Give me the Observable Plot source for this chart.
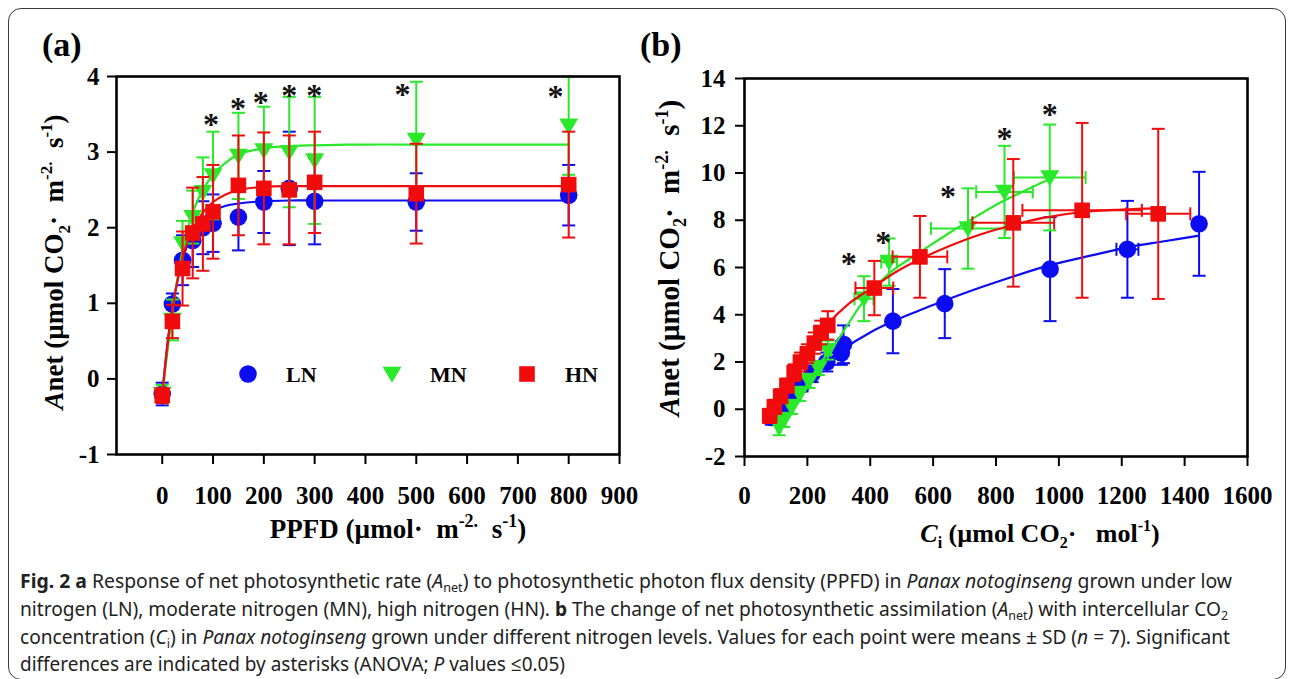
<!DOCTYPE html>
<html><head><meta charset="utf-8">
<script src="https://cdn.jsdelivr.net/npm/d3@7"></script>
<script src="https://cdn.jsdelivr.net/npm/@observablehq/plot@0.6"></script>
<style>
html,body{margin:0;padding:0;background:#fff;}
body{width:1292px;height:679px;overflow:hidden;position:relative;}
#border{position:absolute;left:8px;top:8px;width:1278px;height:672px;border:1.6px solid #3a3a3a;border-radius:13px;box-sizing:border-box;}
#pa{position:absolute;left:0;top:0;}
#pb{position:absolute;left:630px;top:0;}
.cl{position:absolute;left:20px;white-space:nowrap;font-family:"Noto Sans","Open Sans",sans-serif;font-size:20px;line-height:28px;color:#222;transform-origin:0 50%;}
.cl b{font-weight:bold;}
.cl sub{font-size:13px;vertical-align:-4px;line-height:0;}
</style></head><body>
<div id="border"></div>
<div id="pa"></div><div id="pb"></div>
<div id="cap"></div>
<script>
// ---------- Panel (a): light response ----------
const ppfd   = [0, 20, 40, 60, 80, 100, 150, 200, 250, 300, 500, 800];
const lnA    = [-0.20, 0.99, 1.57, 1.83, 2.00, 2.06, 2.14, 2.34, 2.52, 2.35, 2.34, 2.43];
const lnSdA  = [0.15, 0.14, 0.33, 0.35, 0.35, 0.38, 0.44, 0.41, 0.75, 0.57, 0.38, 0.40];
const mnA    = [-0.20, 0.78, 1.79, 2.14, 2.47, 2.69, 2.95, 3.02, 3.00, 2.89, 3.16, 3.35];
const mnSdA  = [0.12, 0.27, 0.30, 0.35, 0.46, 0.58, 0.57, 0.58, 0.73, 0.84, 0.77, 0.65];
const hnA    = [-0.22, 0.76, 1.46, 1.93, 2.05, 2.21, 2.56, 2.52, 2.50, 2.60, 2.45, 2.57];
const hnSdA  = [0.10, 0.22, 0.49, 0.60, 0.62, 0.62, 0.66, 0.74, 0.72, 0.67, 0.66, 0.70];
// fitted curves
const fitXA  = [0, 10, 20, 30, 40, 50, 60, 80, 100, 125, 150, 200, 250, 300, 400, 500, 800];
const lnFitA = [-0.22, 0.45, 0.95, 1.30, 1.58, 1.78, 1.93, 2.12, 2.22, 2.29, 2.32, 2.35, 2.36, 2.36, 2.36, 2.36, 2.36];
const mnFitA = [-0.22, 0.35, 0.88, 1.33, 1.70, 1.98, 2.20, 2.50, 2.70, 2.86, 2.97, 3.05, 3.08, 3.09, 3.10, 3.10, 3.10];
const hnFitA = [-0.22, 0.42, 0.92, 1.30, 1.60, 1.82, 1.98, 2.20, 2.34, 2.44, 2.50, 2.54, 2.55, 2.55, 2.55, 2.55, 2.55];
const sigXA  = [96, 149, 194, 250, 299, 473, 774];
const sigYA  = [3.46, 3.66, 3.75, 3.84, 3.84, 3.85, 3.83];
const xTicksA = [0, 100, 200, 300, 400, 500, 600, 700, 800, 900];
const yTicksA = [-1, 0, 1, 2, 3, 4];

// ---------- Panel (b): CO2 response ----------
const ciLN   = [85, 118, 132, 155, 183, 215, 262, 308, 315, 472, 637, 972, 1218, 1446];
const aLN    = [-0.35, -0.05, 0.25, 0.65, 1.05, 1.50, 2.00, 2.38, 2.75, 3.73, 4.47, 5.93, 6.77, 7.85];
const sdLN   = [0.30, 0.30, 0.30, 0.30, 0.30, 0.35, 0.40, 0.50, 0.80, 1.36, 1.46, 2.20, 2.05, 2.20];
const ciSdLN = [5, 5, 5, 5, 5, 8, 10, 10, 10, 10, 10, 12, 35, 10];
const ciMN   = [110, 125, 150, 175, 205, 235, 265, 380, 460, 711, 827, 971];
const aMN    = [-0.75, -0.45, 0.10, 0.65, 1.20, 1.75, 2.50, 4.68, 6.23, 7.65, 9.20, 9.81];
const sdMN   = [0.35, 0.30, 0.30, 0.30, 0.30, 0.30, 0.40, 0.95, 1.00, 1.70, 1.95, 2.24];
const ciSdMN = [5, 5, 5, 5, 5, 8, 10, 30, 25, 118, 90, 114];
const ciHN   = [80, 95, 115, 135, 158, 178, 200, 222, 243, 265, 413, 558, 855, 1074, 1316];
const aHN    = [-0.28, 0.10, 0.55, 1.00, 1.55, 2.00, 2.35, 2.80, 3.25, 3.55, 5.13, 6.45, 7.89, 8.42, 8.27];
const sdHN   = [0.30, 0.30, 0.30, 0.30, 0.35, 0.40, 0.40, 0.45, 0.50, 0.60, 1.15, 1.73, 2.70, 3.70, 3.60];
const ciSdHN = [5, 5, 5, 5, 5, 5, 8, 8, 10, 12, 60, 87, 130, 190, 102];
const fitXLN = [90, 120, 150, 200, 250, 314, 400, 472, 550, 637, 750, 850, 972, 1100, 1218, 1330, 1446];
const fitYLN = [-0.45, 0.10, 0.60, 1.30, 1.90, 2.55, 3.25, 3.72, 4.15, 4.60, 5.15, 5.60, 6.10, 6.50, 6.85, 7.10, 7.35];
const fitXMN = [110, 150, 200, 250, 300, 380, 460, 558, 650, 711, 814, 900, 971];
const fitYMN = [-0.80, 0.00, 1.10, 2.10, 3.00, 4.60, 5.75, 6.65, 7.45, 7.95, 8.75, 9.30, 9.75];
const fitXHN = [80, 120, 160, 200, 265, 330, 413, 480, 558, 650, 750, 855, 950, 1074, 1200, 1316];
const fitYHN = [-0.30, 0.55, 1.50, 2.40, 3.60, 4.45, 5.20, 5.80, 6.35, 6.90, 7.40, 7.80, 8.10, 8.35, 8.45, 8.50];
const sigXB  = [332, 441, 647, 827, 971];
const sigYB  = [6.45, 7.36, 9.27, 11.74, 12.76];
const xTicksB = [0, 200, 400, 600, 800, 1000, 1200, 1400, 1600];
const yTicksB = [-2, 0, 2, 4, 6, 8, 10, 12, 14];

const series = ["LN", "MN", "HN"];
const colors = {LN: "#0c0cf0", MN: "#2ae82a", HN: "#f00c0c"};

// ---------- symbols ----------
const capH = {draw(ctx, size) { const r = Math.sqrt(size / Math.PI); ctx.moveTo(-r, 0); ctx.lineTo(r, 0); }};
const capV = {draw(ctx, size) { const r = Math.sqrt(size / Math.PI); ctx.moveTo(0, -r); ctx.lineTo(0, r); }};
const triDown = {draw(ctx, size) { const r = Math.sqrt(size / Math.PI);
  ctx.moveTo(-r * 1.25, -r * 0.95); ctx.lineTo(r * 1.25, -r * 0.95); ctx.lineTo(0, r * 1.15); ctx.closePath(); }};
const shape = {LN: "circle", MN: triDown, HN: "square"};
const rad = {LN: 8.8, MN: 7.6, HN: 8.8};

const zip = (xs, ys, sds, xsd) => xs.map((x, i) => ({x, y: ys[i], sd: sds ? sds[i] : 0, xsd: xsd ? xsd[i] : 0}));
const FONT = "'Liberation Serif','Times New Roman',serif";

function seriesMarks(key, pts, fit, withX) {
  const c = colors[key];
  const m = [];
  m.push(Plot.ruleX(pts, {x: "x", y1: d => d.y - d.sd, y2: d => d.y + d.sd, stroke: c, strokeWidth: 2}));
  m.push(Plot.dot(pts, {x: "x", y: d => d.y + d.sd, symbol: capH, r: 6.5, stroke: c, strokeWidth: 2, fill: "none"}));
  m.push(Plot.dot(pts, {x: "x", y: d => d.y - d.sd, symbol: capH, r: 6.5, stroke: c, strokeWidth: 2, fill: "none"}));
  if (withX) {
    m.push(Plot.ruleY(pts, {y: "y", x1: d => d.x - d.xsd, x2: d => d.x + d.xsd, stroke: c, strokeWidth: 2}));
    m.push(Plot.dot(pts, {x: d => d.x - d.xsd, y: "y", symbol: capV, r: 6.5, stroke: c, strokeWidth: 2, fill: "none"}));
    m.push(Plot.dot(pts, {x: d => d.x + d.xsd, y: "y", symbol: capV, r: 6.5, stroke: c, strokeWidth: 2, fill: "none"}));
  }
  m.push(Plot.line(fit, {x: "x", y: "y", stroke: c, strokeWidth: 2.2, curve: "catmull-rom"}));
  m.push(Plot.dot(pts, {x: "x", y: "y", symbol: shape[key], r: rad[key], fill: c, stroke: "none"}));
  return m;
}

function addYLabel(svg, x, y, size) {
  const t = d3.select(svg).append("text")
    .attr("transform", `translate(${x},${y}) rotate(-90)`)
    .attr("text-anchor", "middle").attr("font-family", FONT).attr("font-weight", "bold")
    .attr("font-size", size).attr("fill", "#000");
  const s = Math.round(size * 0.62);
  t.append("tspan").attr("font-style", "italic").text("A");
  t.append("tspan").text("net (\u00b5mol CO");
  t.append("tspan").attr("font-size", s).attr("dy", 7).text("2");
  t.append("tspan").attr("dy", -7).text("\u00b7  m");
  t.append("tspan").attr("font-size", s).attr("dy", -11).text("-2.");
  t.append("tspan").attr("dy", 11).text("  s");
  t.append("tspan").attr("font-size", s).attr("dy", -11).text("-1");
  t.append("tspan").attr("dy", 11).text(")");
}

function addTitle(svg, x, y, txt) {
  d3.select(svg).append("text").attr("x", x).attr("y", y).attr("text-anchor", "start").attr("font-family", FONT)
    .attr("font-weight", "bold").attr("font-size", 34).attr("fill", "#000").text(txt);
}

// ---------- Panel (a) ----------
const ptsA = {LN: zip(ppfd, lnA, lnSdA), MN: zip(ppfd, mnA, mnSdA), HN: zip(ppfd, hnA, hnSdA)};
const fitA = {LN: zip(fitXA, lnFitA), MN: zip(fitXA, mnFitA), HN: zip(fitXA, hnFitA)};
const sigA = sigXA.map((x, i) => ({x, y: sigYA[i]}));

const plotA = Plot.plot({
  width: 640, height: 560,
  marginLeft: 116, marginRight: 21, marginTop: 76, marginBottom: 106,
  x: {domain: [-90, 900], label: null},
  y: {domain: [-1, 4], label: null},
  style: {fontFamily: FONT, fontWeight: "bold", color: "#000", background: "transparent", overflow: "visible"},
  marks: [
    Plot.axisX({ticks: xTicksA, tickSize: 10, tickPadding: 22, strokeWidth: 2, fontSize: 25, tickFormat: d => String(d), label: null}),
    Plot.axisY({ticks: yTicksA, tickSize: 9, tickPadding: 8, strokeWidth: 2, fontSize: 25, tickFormat: d => String(d), label: null}),
    ...series.flatMap(k => seriesMarks(k, ptsA[k], fitA[k], false)),
    Plot.text(sigA, {x: "x", y: "y", text: () => "*", fontSize: 32, fontWeight: "bold", lineAnchor: "middle", dy: 7, fill: "#111"}),
    Plot.frame({stroke: "#000", strokeWidth: 2.6})
  ]
});
document.getElementById("pa").appendChild(plotA);
addYLabel(plotA, 63, 262, 27);
addTitle(plotA, 42, 56, "(a)");
{
  const g = d3.select(plotA);
  const t = g.append("text").attr("x", 398).attr("y", 538).attr("text-anchor", "middle")
    .attr("font-family", FONT).attr("font-weight", "bold").attr("font-size", 27).attr("fill", "#000");
  t.append("tspan").text("PPFD (\u00b5mol\u00b7  m");
  t.append("tspan").attr("font-size", 18).attr("dy", -11).text("-2.");
  t.append("tspan").attr("dy", 11).text("  s");
  t.append("tspan").attr("font-size", 18).attr("dy", -11).text("-1");
  t.append("tspan").attr("dy", 11).text(")");
  // legend
  const leg = [{k: "LN", x: 248}, {k: "MN", x: 392}, {k: "HN", x: 527}];
  const ly = 374;
  for (const l of leg) {
    const sym = l.k === "MN" ? triDown : (l.k === "LN" ? d3.symbolCircle : d3.symbolSquare);
    g.append("path").attr("transform", `translate(${l.x},${ly})`)
      .attr("d", d3.symbol(sym, Math.PI * rad[l.k] * rad[l.k])()).attr("fill", colors[l.k]);
    g.append("text").attr("x", l.x + 38).attr("y", ly + 8).attr("text-anchor", "start").attr("font-family", FONT)
      .attr("font-weight", "bold").attr("font-size", 22).attr("fill", "#000").text(l.k);
  }
}

// ---------- Panel (b) ----------
const ptsB = {LN: zip(ciLN, aLN, sdLN, ciSdLN), MN: zip(ciMN, aMN, sdMN, ciSdMN), HN: zip(ciHN, aHN, sdHN, ciSdHN)};
const fitB = {LN: zip(fitXLN, fitYLN), MN: zip(fitXMN, fitYMN), HN: zip(fitXHN, fitYHN)};
const sigB = sigXB.map((x, i) => ({x, y: sigYB[i]}));

const plotB = Plot.plot({
  width: 662, height: 560,
  marginLeft: 114, marginRight: 45, marginTop: 78, marginBottom: 104,
  x: {domain: [0, 1600], label: null},
  y: {domain: [-2, 14], label: null},
  style: {fontFamily: FONT, fontWeight: "bold", color: "#000", background: "transparent", overflow: "visible"},
  marks: [
    Plot.axisX({ticks: xTicksB, tickSize: 10, tickPadding: 20, strokeWidth: 2, fontSize: 25, tickFormat: d => String(d), label: null}),
    Plot.axisY({ticks: yTicksB, tickSize: 9, tickPadding: 10, strokeWidth: 2, fontSize: 25, tickFormat: d => String(d), label: null}),
    ...series.flatMap(k => seriesMarks(k, ptsB[k], fitB[k], true)),
    Plot.text(sigB, {x: "x", y: "y", text: () => "*", fontSize: 32, fontWeight: "bold", lineAnchor: "middle", dy: 7, fill: "#111"}),
    Plot.frame({stroke: "#000", strokeWidth: 2.6})
  ]
});
document.getElementById("pb").appendChild(plotB);
addYLabel(plotB, 49, 258, 29);
addTitle(plotB, 10, 56, "(b)");
{
  const t = d3.select(plotB).append("text").attr("x", 410).attr("y", 542).attr("text-anchor", "middle")
    .attr("font-family", FONT).attr("font-weight", "bold").attr("font-size", 26).attr("fill", "#000");
  t.append("tspan").attr("font-style", "italic").text("C");
  t.append("tspan").attr("font-size", 16).attr("dy", 6).text("i");
  t.append("tspan").attr("dy", -6).text(" (\u00b5mol CO");
  t.append("tspan").attr("font-size", 16).attr("dy", 6).text("2");
  t.append("tspan").attr("dy", -6).text("\u00b7   mol");
  t.append("tspan").attr("font-size", 16).attr("dy", -11).text("-1");
  t.append("tspan").attr("dy", 11).text(")");
}

// ---------- Caption ----------
const capLines = [
  '<b>Fig. 2 a</b> Response of net photosynthetic rate (<i>A</i><sub>net</sub>) to photosynthetic photon flux density (PPFD) in <i>Panax notoginseng</i> grown under low',
  'nitrogen (LN), moderate nitrogen (MN), high nitrogen (HN). <b>b</b> The change of net photosynthetic assimilation (<i>A</i><sub>net</sub>) with intercellular CO<sub>2</sub>',
  'concentration (<i>C</i><sub>i</sub>) in <i>Panax notoginseng</i> grown under different nitrogen levels. Values for each point were means \u00b1 SD (<i>n</i> = 7). Significant',
  'differences are indicated by asterisks (ANOVA; <i>P</i> values \u22640.05)'
];
const capTops = [567, 595, 623, 650];
const capWidths = [1212, 1208, 1210, 545];
const cap = document.getElementById("cap");
capLines.forEach((h, i) => {
  const d = document.createElement("div");
  d.className = "cl"; d.innerHTML = h; d.style.top = capTops[i] + "px";
  cap.appendChild(d);
  const w = d.getBoundingClientRect().width;
  d.style.transform = `scaleX(${capWidths[i] / w})`;
});
</script>
</body></html>
